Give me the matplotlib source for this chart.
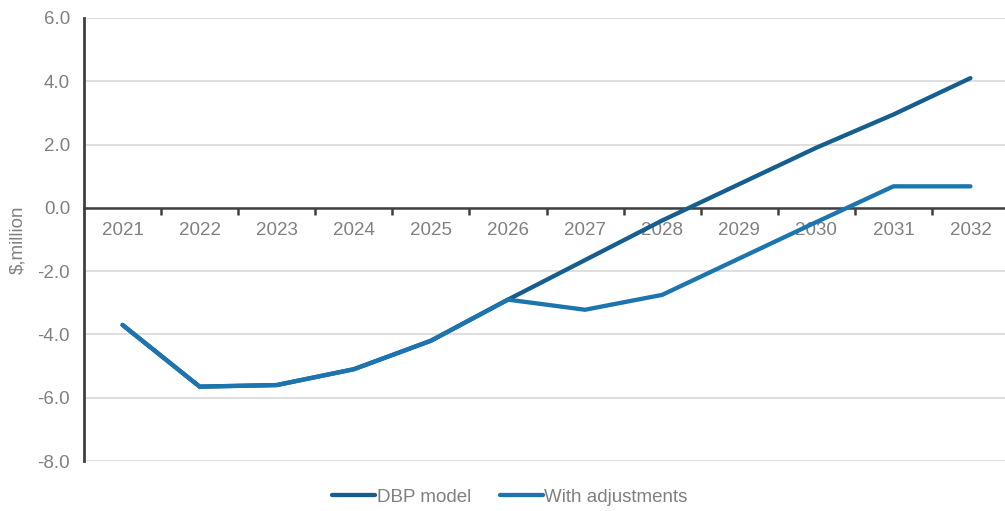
import matplotlib.pyplot as plt
import numpy as np

plt.rcParams['font.family'] = ['Liberation Sans', 'DejaVu Sans']

years = ['2021', '2022', '2023', '2024', '2025', '2026',
         '2027', '2028', '2029', '2030', '2031', '2032']
dbp_model = [-3.7, -5.65, -5.6, -5.1, -4.2, -2.9,
             -1.65, -0.4, 0.75, 1.9, 2.95, 4.1]
with_adjustments = [-3.7, -5.65, -5.6, -5.1, -4.2, -2.9,
                    -3.22, -2.75, -1.6, -0.45, 0.68, 0.68]

grey_text = '#808080'
axis_col = '#404040'
fs = 13.5

fig = plt.figure(figsize=(10.05, 5.11), dpi=100)
ax = fig.add_axes([84 / 1005, 1 - 461 / 511, (1009 - 84) / 1005, (461 - 18) / 511])

x = np.arange(len(years))
ax.plot(x, dbp_model, color='#165E8E', lw=3.1, solid_capstyle='round',
        label='DBP model', zorder=3)
ax.plot(x, with_adjustments, color='#1C75AE', lw=3.1, solid_capstyle='round',
        label='With adjustments', zorder=4)

ax.set_xlim(-0.5, len(years) - 0.5)
ax.set_ylim(-8, 6)
ax.set_yticks(np.arange(-8, 6.1, 2))
ax.set_yticklabels([f'{v:.1f}' for v in np.arange(-8, 6.1, 2)])
ax.tick_params(axis='y', length=0, pad=10, labelsize=fs, labelcolor=grey_text)
ax.grid(axis='y', color='#d9d9d9', lw=1.2, zorder=0)

# category boundaries get the tick marks, centres get the labels
ax.set_xticks(np.arange(0.5, len(years) - 0.5, 1))
ax.set_xticklabels([])
ax.set_xticks(x, minor=True)
ax.set_xticklabels(years, minor=True)
ax.tick_params(axis='x', which='major', length=5, width=1.8, color=axis_col, direction='out')
ax.tick_params(axis='x', which='minor', length=0, pad=10, labelsize=fs, labelcolor=grey_text)

ax.spines['bottom'].set_position(('data', 0))
ax.spines['bottom'].set_color(axis_col)
ax.spines['bottom'].set_linewidth(1.8)
ax.spines['left'].set_color(axis_col)
ax.spines['left'].set_linewidth(2)
ax.spines['top'].set_visible(False)
ax.spines['right'].set_visible(False)

ax.set_ylabel('$,million', color=grey_text, fontsize=fs, labelpad=8)

fig.legend(loc='center', bbox_to_anchor=(510 / 1005, 1 - 497 / 511), ncol=2,
           frameon=False, fontsize=fs, labelcolor=grey_text,
           handlelength=2.3, handletextpad=0.1, columnspacing=1.5)

fig.savefig('out.png', dpi=100)
